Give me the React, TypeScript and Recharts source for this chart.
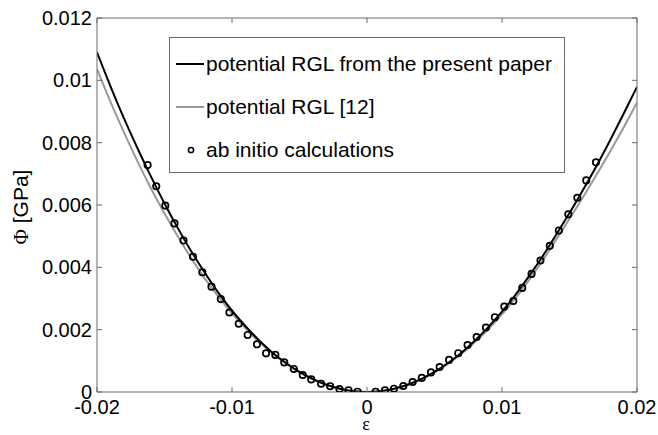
import React from 'react';
import { ComposedChart, Line, Scatter, XAxis, YAxis, Legend, Label } from 'recharts';

const epsGrid = [-0.02, -0.019, -0.018, -0.017, -0.016, -0.015, -0.014, -0.013, -0.012, -0.011, -0.01, -0.009, -0.008, -0.007, -0.006, -0.005, -0.004, -0.003, -0.002, -0.001, 0, 0.001, 0.002, 0.003, 0.004, 0.005, 0.006, 0.007, 0.008, 0.009, 0.01, 0.011, 0.012, 0.013, 0.014, 0.015, 0.016, 0.017, 0.018, 0.019, 0.02];
const phiPresent = [0.0109, 0.00981, 0.00878, 0.00782, 0.00691, 0.00605, 0.00525, 0.0045, 0.00382, 0.00318, 0.00261, 0.00211, 0.00166, 0.00126, 0.00093, 0.000645, 0.000413, 0.000232, 0.000103, 0.000026, 0, 0.000026, 0.000103, 0.000232, 0.000413, 0.000645, 0.00093, 0.00126, 0.00165, 0.00209, 0.00258, 0.00312, 0.00372, 0.00435, 0.00504, 0.00574, 0.00648, 0.00725, 0.00807, 0.00892, 0.00979];
const phiRef12 = [0.01036, 0.00931, 0.00833, 0.0074, 0.00653, 0.00573, 0.00498, 0.00428, 0.00364, 0.00306, 0.00252, 0.00204, 0.00161, 0.00124, 0.00091, 0.00063, 0.000403, 0.000227, 0.000101, 0.000025, 0, 0.000025, 0.0001, 0.000226, 0.000402, 0.000628, 0.0009, 0.001225, 0.0016, 0.00202, 0.00249, 0.00301, 0.00359, 0.00421, 0.00488, 0.00556, 0.00625, 0.00697, 0.00771, 0.00848, 0.00928];
const abInitioEps = [-0.01625, -0.01561, -0.01494, -0.01426, -0.01359, -0.01289, -0.0122, -0.01152, -0.01083, -0.01019, -0.0095, -0.00884, -0.00815, -0.00748, -0.00679, -0.00613, -0.00542, -0.00476, -0.00413, -0.0034, -0.00273, -0.00204, -0.00137, -0.0007, 0.00064, 0.00133, 0.002, 0.00269, 0.00338, 0.00406, 0.00474, 0.00538, 0.00608, 0.00676, 0.00745, 0.00812, 0.00881, 0.00947, 0.01017, 0.01084, 0.0115, 0.01219, 0.01285, 0.01354, 0.01421, 0.01491, 0.01558, 0.01624, 0.01696];
const abInitioPhi = [0.00728, 0.0066, 0.00598, 0.00541, 0.00486, 0.00434, 0.00384, 0.00338, 0.00298, 0.00255, 0.00219, 0.00183, 0.00153, 0.00124, 0.00119, 0.00095, 0.00074, 0.000545, 0.000404, 0.000266, 0.000186, 0.000096, 0.000058, 0.00001, 0.00001, 0.000051, 0.000106, 0.000193, 0.000321, 0.000452, 0.000629, 0.000802, 0.00103, 0.001245, 0.001508, 0.001765, 0.00207, 0.0024, 0.00274, 0.00292, 0.00334, 0.00379, 0.00422, 0.00469, 0.00518, 0.0057, 0.00623, 0.00679, 0.00737];
const xTicks = [-0.02, -0.01, 0, 0.01, 0.02];
const yTicks = [0, 0.002, 0.004, 0.006, 0.008, 0.01, 0.012];
const seriesNames = ['potential RGL from the present paper', 'potential RGL [12]', 'ab initio calculations'];

const presentData = epsGrid.map((x, i) => ({ x, y: phiPresent[i] }));
const refData = epsGrid.map((x, i) => ({ x, y: phiRef12[i] }));
const abData = abInitioEps.map((x, i) => ({ x, y: abInitioPhi[i] }));

const SANS = '"Liberation Sans", Arial, Helvetica, sans-serif';
const SERIF = '"Liberation Serif", "Times New Roman", serif';
const FRAME = '#6a6a6a';
const tickFont = { fontSize: 20, fill: '#000', stroke: 'none', fontFamily: SANS };
const Empty = () => <g />;

const Circle = (props: any) => (
  <circle cx={props.cx} cy={props.cy} r={3.2} fill="none" stroke="#000" strokeWidth={1.7} />
);

const LegendBox = () => {
  const rows = [
    { name: seriesNames[0], kind: 'line', color: '#000' },
    { name: seriesNames[1], kind: 'line', color: '#999' },
    { name: seriesNames[2], kind: 'marker', color: '#000' },
  ];
  return (
    <div style={{ width: 396, height: 136, boxSizing: 'border-box', border: `1px solid ${FRAME}`, background: '#fff', position: 'relative', fontFamily: SANS, fontSize: 21 }}>
      {rows.map((r, i) => (
        <div key={i} style={{ position: 'absolute', left: 0, top: 26 + i * 43 - 15, height: 30, display: 'flex', alignItems: 'center', whiteSpace: 'nowrap' }}>
          <svg width={36} height={30} style={{ display: 'block' }}>
            {r.kind === 'line' ? (
              <line x1={6} x2={34} y1={15} y2={15} stroke={r.color} strokeWidth={2} />
            ) : (
              <circle cx={21} cy={15} r={2.6} fill="none" stroke="#000" strokeWidth={1.5} />
            )}
          </svg>
          <span style={{ color: '#000' }}>{r.name}</span>
        </div>
      ))}
    </div>
  );
};

export default function App() {
  return (
    <div style={{ position: 'absolute', left: 0, top: 0 }}>
      <ComposedChart width={658} height={435} margin={{ top: 0, right: 0, bottom: 0, left: 0 }}>
        <XAxis xAxisId="b" dataKey="x" type="number" domain={[-0.02, 0.02]} ticks={xTicks} allowDataOverflow
          height={43} tickSize={-5} tickMargin={13} stroke={FRAME} tick={tickFont}>
          <Label content={() => (
            <text x={366} y={430} textAnchor="middle" fontFamily={SERIF} fontSize={18} fill="#000" stroke="none">ε</text>
          )} />
        </XAxis>
        <XAxis xAxisId="t" orientation="top" dataKey="x" type="number" domain={[-0.02, 0.02]} ticks={xTicks} allowDataOverflow
          height={18} tickSize={-5} stroke={FRAME} tick={<Empty />} />
        <YAxis yAxisId="l" type="number" domain={[0, 0.012]} ticks={yTicks} allowDataOverflow width={97}
          tickSize={-5} tickMargin={10} stroke={FRAME} tick={tickFont}>
          <Label content={() => (
            <text x={0} y={0} transform="translate(28,207) rotate(-90)" textAnchor="middle" fontSize={21} fill="#000" stroke="none">
              <tspan fontFamily={SERIF} fill="#000">Φ</tspan>
              <tspan fontFamily={SANS} fill="#000"> [GPa]</tspan>
            </text>
          )} />
        </YAxis>
        <YAxis yAxisId="r" orientation="right" type="number" domain={[0, 0.012]} ticks={yTicks} allowDataOverflow width={21}
          tickSize={-5} stroke={FRAME} tick={<Empty />} />
        <Legend layout="horizontal" verticalAlign="middle" align="center" content={<LegendBox />}
          wrapperStyle={{ position: 'absolute', left: 169, top: 37, width: 396, height: 136 }} />
        <Line xAxisId="b" yAxisId="l" data={refData} dataKey="y" name={seriesNames[1]} type="monotone" stroke="#999" strokeWidth={2} dot={false} isAnimationActive={false} />
        <Line xAxisId="b" yAxisId="l" data={presentData} dataKey="y" name={seriesNames[0]} type="monotone" stroke="#000" strokeWidth={2} dot={false} isAnimationActive={false} />
        <Scatter xAxisId="b" yAxisId="l" data={abData} dataKey="y" name={seriesNames[2]} shape={<Circle />} isAnimationActive={false} />
      </ComposedChart>
    </div>
  );
}
